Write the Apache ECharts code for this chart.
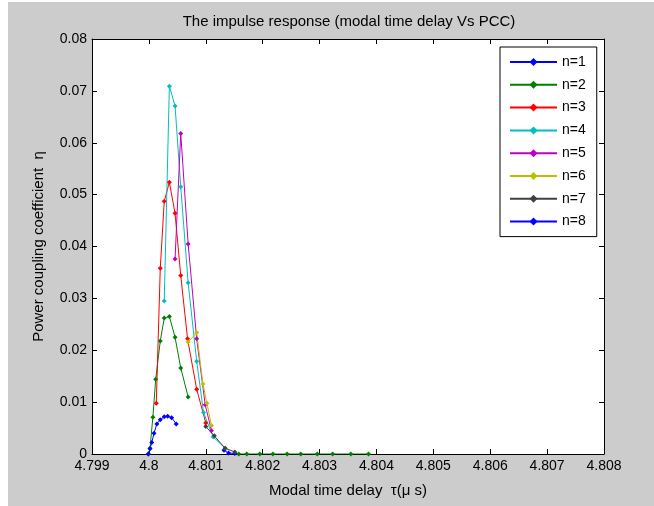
<!DOCTYPE html>
<html>
<head>
<meta charset="utf-8">
<script src="https://cdn.jsdelivr.net/npm/echarts@6/dist/echarts.min.js"></script>
<style>
html,body{margin:0;padding:0;background:#fff;}
#c{width:654px;height:506px;}
</style>
</head>
<body>
<div id="c"></div>
<script>
// ---- data ----
const xTicks = [4.799, 4.800, 4.801, 4.802, 4.803, 4.804, 4.805, 4.806, 4.807, 4.808];
const yTicks = [0, 0.01, 0.02, 0.03, 0.04, 0.05, 0.06, 0.07, 0.08];
const seriesNames = ['n=1', 'n=2', 'n=3', 'n=4', 'n=5', 'n=6', 'n=7', 'n=8'];

const n1X = [4.80132, 4.80140, 4.80151];
const n1Y = [0.0007, 0.0002, 0.0001];

const n2X = [4.79999, 4.80002, 4.80007, 4.80012, 4.80020, 4.80027, 4.80036, 4.80046, 4.80056, 4.80069];
const n2Y = [0.0000, 0.0011, 0.0071, 0.0144, 0.0218, 0.0262, 0.0265, 0.0225, 0.0166, 0.0110];
const n2TailX = [4.80158, 4.80172, 4.80195, 4.80218, 4.80243, 4.80267, 4.80296, 4.80323, 4.80355, 4.80386];
const n2TailY = [0, 0, 0, 0, 0, 0, 0, 0, 0, 0];

const n3X = [4.80013, 4.80020, 4.80027, 4.80036, 4.80046, 4.80056, 4.80068, 4.80084, 4.80100];
const n3Y = [0.0098, 0.0358, 0.0487, 0.0524, 0.0464, 0.0344, 0.0222, 0.0125, 0.0060];

const n4X = [4.80027, 4.80036, 4.80046, 4.80056, 4.80069, 4.80084, 4.80096, 4.80113, 4.80134];
const n4Y = [0.0295, 0.0709, 0.0671, 0.0515, 0.0330, 0.0179, 0.0080, 0.0033, 0.0011];

const n5X = [4.80046, 4.80056, 4.80069, 4.80084, 4.80099, 4.80110];
const n5Y = [0.0376, 0.0618, 0.0405, 0.0222, 0.0095, 0.0045];

const n6X = [4.80069, 4.80084, 4.80095, 4.80102, 4.80110];
const n6Y = [0.0216, 0.0234, 0.0135, 0.0098, 0.0055];

const n7X = [4.80100, 4.80115, 4.80134, 4.80151];
const n7Y = [0.0053, 0.0035, 0.0011, 0.0004];

const n8X = [4.79999, 4.80002, 4.80005, 4.80009, 4.80014, 4.80020, 4.80027, 4.80033, 4.80040, 4.80048];
const n8Y = [0.0000, 0.0010, 0.0022, 0.0040, 0.0058, 0.0066, 0.0072, 0.0073, 0.0070, 0.0058];

const colors = ['#0000ff', '#008000', '#ff0000', '#00bfbf', '#bf00bf', '#bfbf00', '#404040', '#0000ff'];

// ---- build ----
function pairs(xs, ys) { return xs.map((x, i) => [x, ys[i]]); }
const allData = [
  pairs(n1X, n1Y), pairs(n2X, n2Y), pairs(n3X, n3Y), pairs(n4X, n4Y),
  pairs(n5X, n5Y), pairs(n6X, n6Y), pairs(n7X, n7Y), pairs(n8X, n8Y)
];
const FONT = 'Liberation Sans, Arial, sans-serif';

function mkSeries(name, data, color) {
  return {
    name: name, type: 'line', data: data,
    xAxisIndex: 0, yAxisIndex: 0,
    symbol: 'diamond', symbolSize: 5, showSymbol: true,
    lineStyle: { color: color, width: 1 },
    itemStyle: { color: color },
    emphasis: { disabled: true },
    animation: false, z: 3
  };
}
const series = seriesNames.map((n, i) => mkSeries(n, allData[i], colors[i]));
series.push(mkSeries('n=2', pairs(n2TailX, n2TailY), colors[1]));

function fmt(v) { return String(parseFloat(v.toFixed(4))); }

const axisCommon = {
  axisLine: { show: true, onZero: false, lineStyle: { color: '#000', width: 1 } },
  axisTick: { show: true, inside: true, length: 5, lineStyle: { color: '#000' } },
  splitLine: { show: false }
};

const chart = echarts.init(document.getElementById('c'), null, { renderer: 'canvas' });
chart.setOption({
  animation: false,
  backgroundColor: '#ffffff',
  graphic: [{
    type: 'rect', z: -10, silent: true,
    shape: { x: 8, y: 2, width: 646, height: 504 },
    style: { fill: '#cccccc' }
  }, {
    type: 'rect', z: -9, silent: true,
    shape: { x: 92, y: 39, width: 512, height: 415 },
    style: { fill: '#ffffff' }
  }],
  title: {
    text: 'The impulse response (modal time delay Vs PCC)',
    left: 344, top: 9, textAlign: 'center',
    textStyle: { fontFamily: FONT, fontSize: 15, fontWeight: 'normal', color: '#000' }
  },
  grid: { left: 92, top: 39, right: 50, bottom: 52, containLabel: false },
  legend: {
    orient: 'vertical', left: 500, top: 47,
    data: seriesNames,
    backgroundColor: '#ffffff', borderColor: '#000', borderWidth: 1,
    padding: [8, 11, 8, 9],
    itemWidth: 47, itemHeight: 10, itemGap: 8.8,
    textStyle: { fontFamily: FONT, fontSize: 14, color: '#000' },
    selectedMode: false
  },
  xAxis: [Object.assign({
    type: 'value', min: 4.799, max: 4.808, interval: 0.001, position: 'bottom',
    name: 'Modal time delay  \u03c4(\u03bc s)', nameLocation: 'middle', nameGap: 29,
    nameTextStyle: { fontFamily: FONT, fontSize: 15, color: '#000' },
    axisLabel: { margin: 5, fontFamily: FONT, fontSize: 14, color: '#000', formatter: fmt }
  }, axisCommon), Object.assign({
    type: 'value', min: 4.799, max: 4.808, interval: 0.001, position: 'top',
    axisLabel: { show: false }
  }, axisCommon)],
  yAxis: [Object.assign({
    type: 'value', min: 0, max: 0.08, interval: 0.01, position: 'left',
    name: 'Power coupling coefficient  \u03b7', nameLocation: 'middle', nameGap: 46, nameRotate: 90,
    nameTextStyle: { fontFamily: FONT, fontSize: 15, color: '#000' },
    axisLabel: { margin: 5, fontFamily: FONT, fontSize: 14, color: '#000', formatter: fmt }
  }, axisCommon), Object.assign({
    type: 'value', min: 0, max: 0.08, interval: 0.01, position: 'right',
    axisLabel: { show: false }
  }, axisCommon)],
  series: series
});
</script>
</body>
</html>
